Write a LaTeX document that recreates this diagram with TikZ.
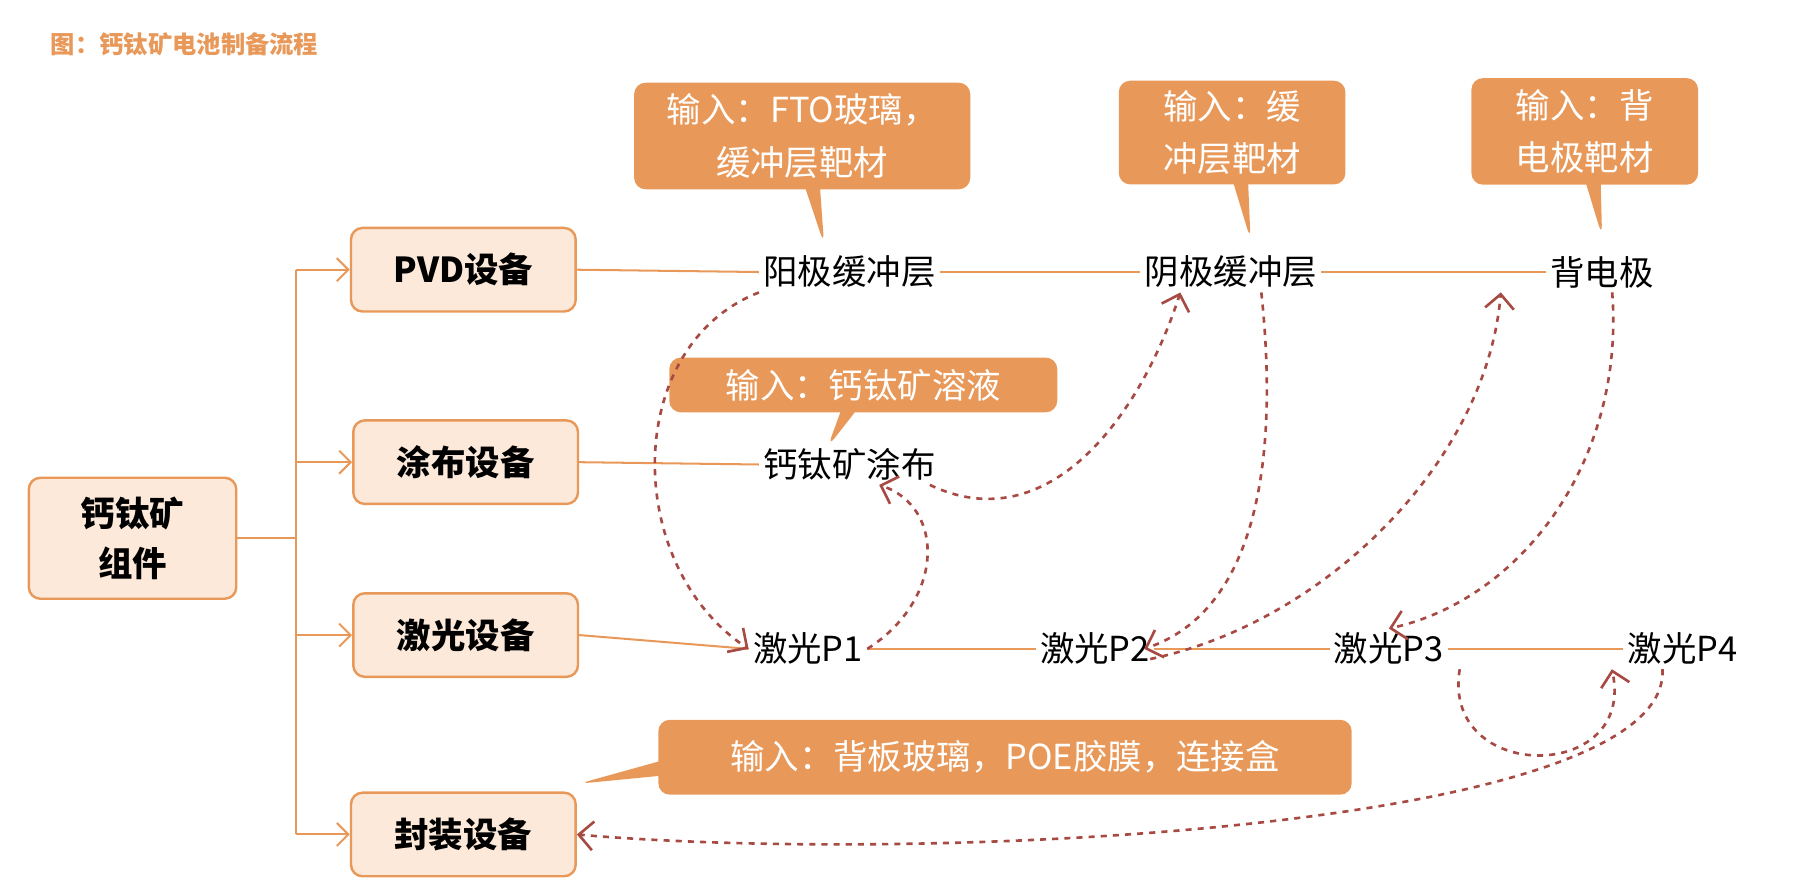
\documentclass[tikz,border=0pt]{standalone}
\usepackage{fontspec}
\setmainfont{Noto Sans CJK SC}
\usepackage{tikz}
\usetikzlibrary{arrows.meta}
\usetikzlibrary{shapes.callouts}
\definecolor{boxfill}{HTML}{FCE9DA}
\definecolor{boxline}{HTML}{E8995A}
\definecolor{callfill}{HTML}{E8995A}
\definecolor{dashred}{HTML}{A84A44}
\begin{document}
\begin{tikzpicture}[x=0.02cm, y=-0.02cm]
    \tikzstyle{block} = [draw=boxline, fill=boxfill, line width=1.2pt, rectangle, rounded corners=2mm, minimum width=3.9cm, minimum height=1.45cm, font=\fontsize{17}{21}\selectfont\bfseries];
    \tikzstyle{stage} = [inner sep=2pt, font=\fontsize{17}{21}\selectfont];
    \tikzstyle{note} = [rectangle callout, fill=callfill, text=white, rounded corners=2mm, align=center, font=\fontsize{17}{26}\selectfont];
    \tikzstyle{link} = [draw=boxline, line width=1pt];
    \tikzstyle{flow} = [draw=dashred, line width=1.3pt, dashed, -{Straight Barb[length=2.5mm]}];
    \useasboundingbox (0,0) rectangle (1560,772);
    \node[text=boxline, font=\fontsize{12}{14}\selectfont\bfseries, anchor=west] (title) at (38,38) {图：钙钛矿电池制备流程};
    % equipment boxes
    \node[block, minimum width=3.6cm, minimum height=2.1cm, align=center] (root) at (115,467) {钙钛矿\\[4pt]组件};
    \node[block] (pvd) at (402,234) {PVD设备};
    \node[block] (coat) at (404,401) {涂布设备};
    \node[block] (laser) at (404,551) {激光设备};
    \node[block] (pack) at (402,724) {封装设备};
    % process steps
    \node[stage] (anode) at (737,236) {阳极缓冲层};
    \node[stage] (cathode) at (1068,236) {阴极缓冲层};
    \node[stage] (back) at (1390,236) {背电极};
    \node[stage] (perov) at (737,403) {钙钛矿涂布};
    \node[stage] (p1) at (701,563) {激光P1};
    \node[stage] (p2) at (950,563) {激光P2};
    \node[stage] (p3) at (1205,563) {激光P3};
    \node[stage] (p4) at (1460,563) {激光P4};
    % inputs
    \node[note, text width=5.6cm, minimum height=1.85cm, callout absolute pointer={(715,212)}] (in1) at (696,118) {输入：FTO玻璃，\\缓冲层靶材};
    \node[note, text width=3.7cm, minimum height=1.8cm, callout absolute pointer={(1085,208)}] (in2) at (1069,115) {输入：缓\\冲层靶材};
    \node[note, text width=3.7cm, minimum height=1.85cm, callout absolute pointer={(1390,205)}] (in3) at (1375,114) {输入：背\\电极靶材};
    \node[note, text width=6.5cm, minimum height=0.95cm, callout absolute pointer={(718,388)}] (in4) at (749,334) {输入：钙钛矿溶液};
    \node[note, text width=11.8cm, minimum height=1.3cm, callout absolute pointer={(502,680)}] (in5) at (872,657) {输入：背板玻璃，POE胶膜，连接盒};
    % tree
    \coordinate (trunk) at (257,467);
    \path[link] (root.east) -- (trunk);
    \path[link] (257,234) -- (257,724);
    \foreach \b in {pvd,coat,laser,pack}
        \path[link, -{Straight Barb[length=2mm]}] (trunk |- \b.west) -- (\b.west);
    % rows
    \path[link] (pvd.east) -- (anode.west);
    \path[link] (anode.east) -- (cathode.west);
    \path[link] (cathode.east) -- (back.west);
    \path[link] (coat.east) -- (perov.west);
    \path[link] (laser.east) -- (p1.west);
    \path[link] (p1.east) -- (p2.west);
    \path[link] (p2.east) -- (p3.west);
    \path[link] (p3.east) -- (p4.west);
    % process order
    \path[flow] (anode.south west) .. controls (540,300) and (540,490) .. (p1.west);
    \path[flow] (p1.east) .. controls (820,520) and (820,440) .. ([xshift=-30]perov.south east);
    \path[flow] ([xshift=-5]perov.south east) .. controls (910,470) and (990,360) .. ([xshift=-25]cathode.south);
    \path[flow] ([xshift=15]cathode.south) .. controls (1110,400) and (1090,530) .. ([xshift=-5]p2.east);
    \path[flow] ([xshift=-2,yshift=-5]p2.east) .. controls (1150,540) and (1290,400) .. ([xshift=-50]back.south);
    \path[flow] ([xshift=5]back.south) .. controls (1410,400) and (1320,520) .. (p3.north);
    \path[flow] ([xshift=35]p3.south) .. controls (1250,680) and (1420,680) .. ([xshift=-35]p4.south);
    \path[flow] ([xshift=-10]p4.south) .. controls (1450,720) and (800,750) .. (pack.east);
\end{tikzpicture}
\end{document}
